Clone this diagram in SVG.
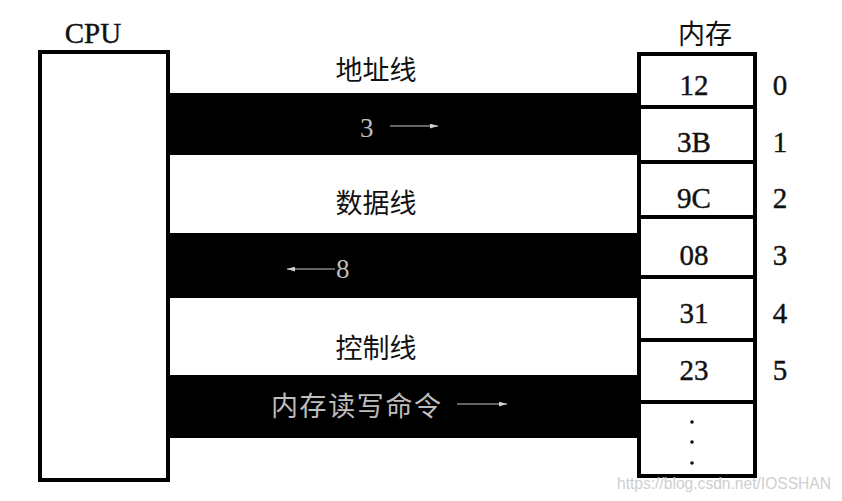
<svg xmlns="http://www.w3.org/2000/svg" width="842" height="501" viewBox="0 0 842 501">
<defs>
<style>
.box{fill:#fff;stroke:#000;stroke-width:4}
.band{fill:#000}
.lbl{font-family:"Noto Sans CJK SC","Noto Sans",sans-serif;font-size:27px;fill:#111;text-anchor:middle}
.num{font-family:"Liberation Serif",serif;font-size:29px;fill:#111;stroke:#111;stroke-width:0.4;text-anchor:middle}
.bt{font-family:"Liberation Serif","Noto Sans CJK SC",serif;font-size:27px;fill:#bdbdbd}
.arr{stroke:#c8c8c8;stroke-width:1.2;fill:none}
.wm{font-family:"Liberation Sans",Arial,sans-serif;font-size:16px;fill:#cfcfcf}
</style>
<marker id="ah" viewBox="0 0 10 6" refX="10" refY="3" markerWidth="8" markerHeight="5" orient="auto" markerUnits="userSpaceOnUse">
<path d="M0,0 L10,3 L0,6 Z" fill="#d0d0d0"/>
</marker>
</defs>
<rect width="842" height="501" fill="#fff"/>
<g id="connectors">
<rect class="band" x="168" y="93" width="472" height="62"/>
<rect class="band" x="168" y="233" width="472" height="65"/>
<rect class="band" x="168" y="375" width="472" height="63"/>
<text class="bt" x="360" y="137">3</text>
<line class="arr" x1="390" y1="126" x2="438" y2="126" marker-end="url(#ah)"/>
<line class="arr" x1="335" y1="269" x2="287" y2="269" marker-end="url(#ah)"/>
<text class="bt" x="336" y="278">8</text>
<text class="bt" x="271" y="416" textLength="170">内存读写命令</text>
<line class="arr" x1="457" y1="404" x2="507" y2="404" marker-end="url(#ah)"/>
<text class="lbl" x="376" y="80">地址线</text>
<text class="lbl" x="376" y="213">数据线</text>
<text class="lbl" x="376" y="358">控制线</text>
</g>
<g id="cpu">
<rect class="box" x="40" y="52" width="128" height="428"/>
<text class="num" x="93" y="43">CPU</text>
</g>
<g id="memory">
<rect class="box" x="639" y="54" width="116" height="422"/>
<line x1="639" y1="107" x2="755" y2="107" stroke="#000" stroke-width="4"/>
<line x1="639" y1="162" x2="755" y2="162" stroke="#000" stroke-width="4"/>
<line x1="639" y1="217" x2="755" y2="217" stroke="#000" stroke-width="4"/>
<line x1="639" y1="277" x2="755" y2="277" stroke="#000" stroke-width="4"/>
<line x1="639" y1="340" x2="755" y2="340" stroke="#000" stroke-width="4"/>
<line x1="639" y1="402" x2="755" y2="402" stroke="#000" stroke-width="4"/>
<text class="lbl" x="705" y="44">内存</text>
<text class="num" x="694" y="95">12</text>
<text class="num" x="694" y="152">3B</text>
<text class="num" x="694" y="208">9C</text>
<text class="num" x="694" y="265">08</text>
<text class="num" x="694" y="323">31</text>
<text class="num" x="694" y="380">23</text>
<circle cx="692" cy="422" r="1.8" fill="#111"/>
<circle cx="692" cy="442" r="1.8" fill="#111"/>
<circle cx="692" cy="463" r="1.8" fill="#111"/>
<text class="num" x="780" y="95">0</text>
<text class="num" x="780" y="152">1</text>
<text class="num" x="780" y="208">2</text>
<text class="num" x="780" y="265">3</text>
<text class="num" x="780" y="323">4</text>
<text class="num" x="780" y="380">5</text>
</g>
<text class="wm" x="617" y="489" textLength="214" lengthAdjust="spacingAndGlyphs">https://blog.csdn.net/IOSSHAN</text>
</svg>
